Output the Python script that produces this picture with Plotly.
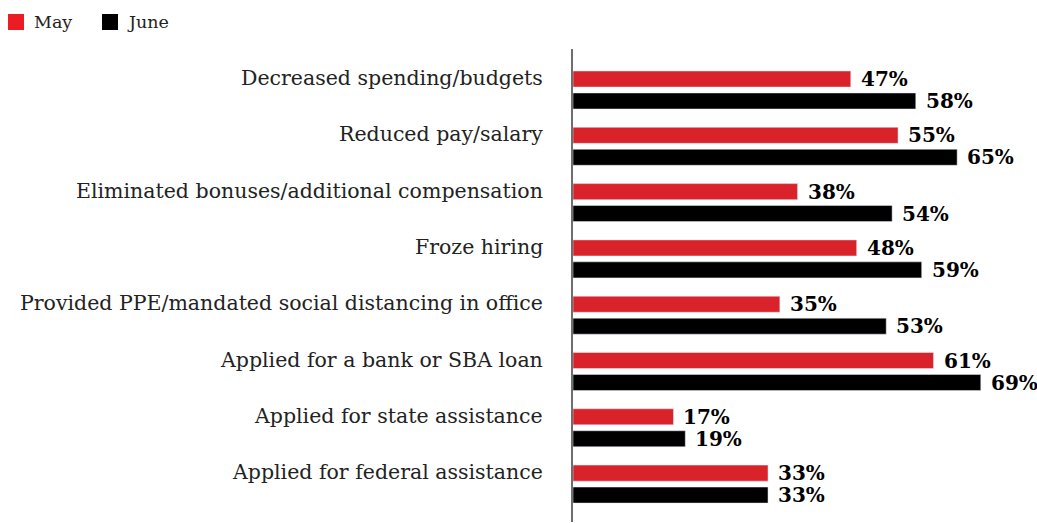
import plotly.graph_objects as go

# Survey responses: share of businesses taking each action, May vs June
categories = [
    "Decreased spending/budgets",
    "Reduced pay/salary",
    "Eliminated bonuses/additional compensation",
    "Froze hiring",
    "Provided PPE/mandated social distancing in office",
    "Applied for a bank or SBA loan",
    "Applied for state assistance",
    "Applied for federal assistance",
]
may_values = [47, 55, 38, 48, 35, 61, 17, 33]
june_values = [58, 65, 54, 59, 53, 69, 19, 33]
series_names = ["May", "June"]

RED = "#d92229"
LEGEND_RED = "#ec1c24"
BLACK = "#000000"
LABEL_FONT = "DejaVu Serif"

W, H = 1037, 523
ML, MR, MT, MB = 573, 0, 49, 1
PW, PH = W - ML - MR, H - MT - MB


def px_x(px):
    return (px - ML) / PW


def px_y(py):
    return (H - MB - py) / PH


fig = go.Figure()
fig.add_trace(go.Bar(name=series_names[0], y=categories, x=may_values,
                     orientation="h", marker_color=RED, showlegend=False))
fig.add_trace(go.Bar(name=series_names[1], y=categories, x=june_values,
                     orientation="h", marker_color=BLACK, showlegend=False))

annotations = []
# value labels to the right of each bar
for cat, mv, jv in zip(categories, may_values, june_values):
    for val, shift in ((mv, 11), (jv, -11)):
        annotations.append(dict(
            x=val, y=cat, xref="x", yref="y", text=f"{val}%",
            xanchor="left", yanchor="middle", xshift=8, yshift=shift,
            showarrow=False,
            font=dict(family=LABEL_FONT, size=20, color="#000000", weight="bold"),
        ))
    # category label, aligned with the May bar
    annotations.append(dict(
        x=px_x(545), y=cat, xref="paper", yref="y", text=cat,
        xanchor="right", yanchor="middle", yshift=12, showarrow=False,
        font=dict(family=LABEL_FONT, size=20.5, color="#222222"),
    ))

# legend entries
shapes = []
for name, color, sq_left, txt_left in ((series_names[0], LEGEND_RED, 8, 32),
                                        (series_names[1], BLACK, 102, 125)):
    shapes.append(dict(type="rect", xref="paper", yref="paper",
                       x0=px_x(sq_left), x1=px_x(sq_left + 16),
                       y0=px_y(30), y1=px_y(14),
                       fillcolor=color, line=dict(width=0)))
    annotations.append(dict(
        x=px_x(txt_left), y=px_y(22), xref="paper", yref="paper", text=name,
        xanchor="left", yanchor="middle", showarrow=False,
        font=dict(family=LABEL_FONT, size=17.5, color="#222222"),
    ))

# category pitch (px) and the offset of the first group centre from the top
pitch = 56.3
top_off = (90 - MT) / pitch
span = PH / pitch

fig.update_layout(
    width=W, height=H,
    margin=dict(l=ML, r=MR, t=MT, b=MB, pad=0),
    barmode="group", bargap=0.22, bargroupgap=0.27,
    plot_bgcolor="white", paper_bgcolor="white",
    annotations=annotations, shapes=shapes,
    xaxis=dict(range=[0, PW / 5.91], visible=False, fixedrange=True),
    yaxis=dict(range=[span - top_off, -top_off],
               showticklabels=False, showgrid=False, zeroline=False,
               showline=True, linecolor="#6e6e6e", linewidth=1.5,
               ticks="", fixedrange=True),
    showlegend=False,
)

fig.write_html("out.html")
